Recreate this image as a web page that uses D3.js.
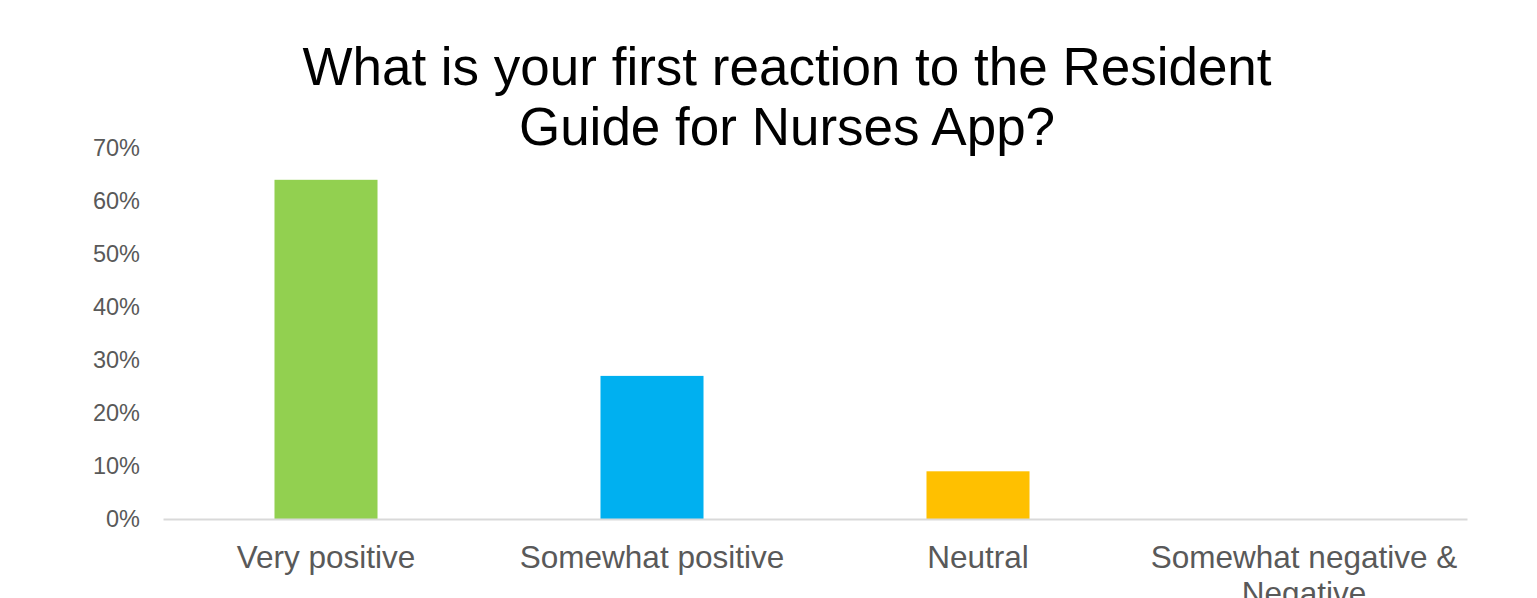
<!DOCTYPE html>
<html>
<head>
<meta charset="utf-8">
<script src="https://cdn.jsdelivr.net/npm/d3@7"></script>
<style>
  body { margin: 0; background: #fff; overflow: hidden; }
  text { font-family: "Liberation Sans", Arial, sans-serif; }
</style>
</head>
<body>
<svg id="chart"></svg>
<script>
// chart data
const categories = ["Very positive", "Somewhat positive", "Neutral", "Somewhat negative & Negative"];
const shares = [0.64, 0.27, 0.09, 0];
const barColors = ["#92d050", "#00b0f0", "#ffc000", "#7f7f7f"];
const yTicks = [0, 0.1, 0.2, 0.3, 0.4, 0.5, 0.6, 0.7];
const titleLines = ["What is your first reaction to the Resident", "Guide for Nurses App?"];

const width = 1537, height = 598;
const margin = { top: 148, right: 70, bottom: 79, left: 163 };

const svg = d3.select("#chart")
    .attr("width", width)
    .attr("height", height);

const innerH = height - margin.top - margin.bottom;

const x = d3.scaleBand()
    .domain(categories)
    .range([margin.left, width - margin.right])
    .paddingInner(0.684)
    .paddingOuter(0.342);

const y = d3.scaleLinear()
    .domain([0, 0.7])
    .range([margin.top + innerH, margin.top]);

// title
svg.append("text")
    .attr("text-anchor", "middle")
    .style("font-size", "53px")
    .attr("fill", "#000")
    .selectAll("tspan")
    .data(titleLines)
    .join("tspan")
    .attr("x", 787)
    .attr("y", (d, i) => 85 + i * 60)
    .text(d => d);

// y axis labels (no line)
const yAxisG = svg.append("g")
    .attr("transform", `translate(${margin.left},0)`)
    .call(d3.axisLeft(y).tickValues(yTicks).tickFormat(d3.format(".0%")).tickSize(0).tickPadding(23));
yAxisG.select(".domain").remove();
yAxisG.selectAll("text")
    .style("font-family", "'Liberation Sans', Arial, sans-serif")
    .style("font-size", "23.5px")
    .attr("fill", "#595959");

// bars
svg.append("g")
    .selectAll("rect")
    .data(categories)
    .join("rect")
    .attr("x", d => x(d))
    .attr("width", x.bandwidth())
    .attr("y", (d, i) => y(shares[i]))
    .attr("height", (d, i) => y(0) - y(shares[i]))
    .attr("fill", (d, i) => barColors[i]);

// x axis
const xAxisG = svg.append("g")
    .attr("transform", `translate(0,${y(0)})`)
    .call(d3.axisBottom(x).tickSize(0).tickSizeOuter(0).tickPadding(0));
xAxisG.select(".domain")
    .attr("stroke", "#d9d9d9")
    .attr("stroke-width", 2);
xAxisG.selectAll(".tick text").remove();

xAxisG.selectAll(".tick")
    .append("text")
    .attr("text-anchor", "middle")
    .attr("fill", "#595959")
    .style("font-family", "'Liberation Sans', Arial, sans-serif")
    .style("font-size", "31.5px")
    .each(function(d) { wrap(d3.select(this), d, x.step()); });

function wrap(textSel, label, maxWidth) {
  const words = label.split(/\s+/);
  let line = [];
  let lineNo = 0;
  let tspan = textSel.append("tspan").attr("x", 0).attr("y", 49);
  words.forEach(w => {
    line.push(w);
    tspan.text(line.join(" "));
    if (tspan.node().getComputedTextLength() > maxWidth && line.length > 1) {
      line.pop();
      tspan.text(line.join(" "));
      line = [w];
      lineNo++;
      tspan = textSel.append("tspan").attr("x", 0).attr("y", 49 + lineNo * 36).text(w);
    }
  });
}
</script>
</body>
</html>
